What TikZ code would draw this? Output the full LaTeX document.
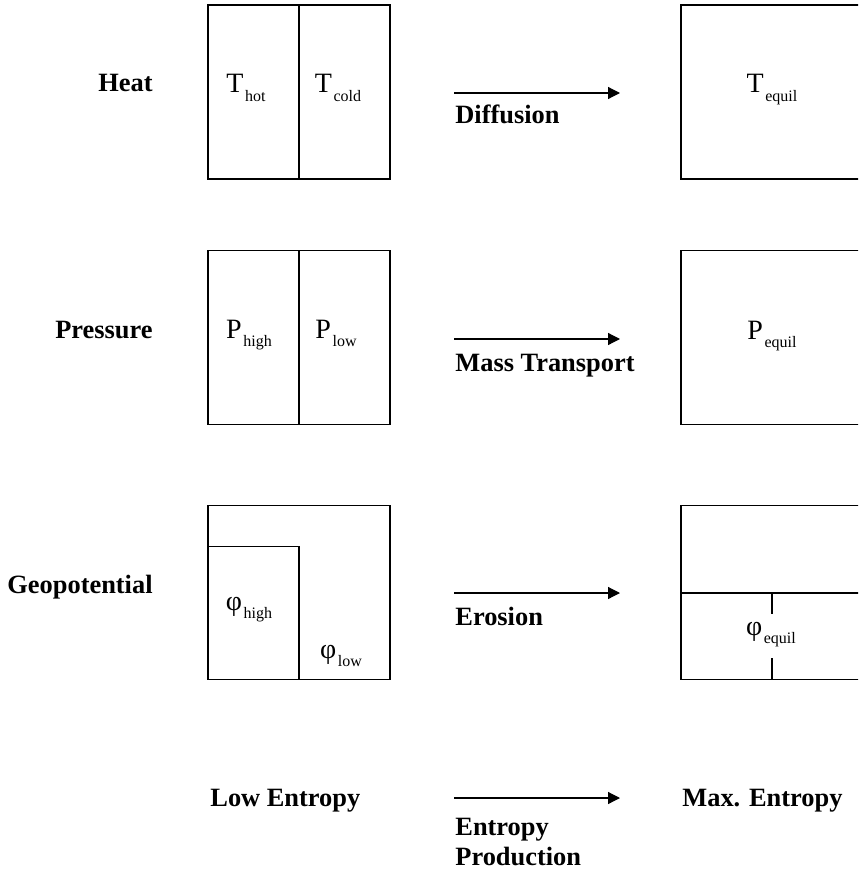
\documentclass[tikz,border=0pt]{standalone}
\usepackage{fontspec}
\setmainfont{Liberation Serif}
\usetikzlibrary{positioning,arrows.meta}
\newcommand{\symsub}[2]{{\fontsize{14}{14}\selectfont #1}\kern0.8pt\raisebox{-4.4pt}{\fontsize{8}{8}\selectfont #2}}

\begin{document}
\begin{tikzpicture}[
  x=0.5pt, y=-0.5pt,
  half/.style={draw, line width=0.7pt, minimum width=45.5pt, minimum height=87pt, inner sep=0pt},
  full/.style={draw, line width=0.7pt, minimum width=91pt, minimum height=87pt, inner sep=0pt},
  row/.style={font=\fontsize{13.2}{15}\selectfont\bfseries, anchor=base east, inner sep=0pt},
  proc/.style={font=\fontsize{13.2}{15}\selectfont\bfseries, anchor=base west, inner sep=0pt, align=left},
  sym/.style={anchor=base, inner sep=0pt},
  arr/.style={-{Triangle[length=6pt,width=6pt]}, line width=0.6pt}
]
\clip (0,0) rectangle (858,872);

% heat
\node[row]  (heat) at (153,92) {Heat};
\node[half] (hot)  at (253.5,92) {};
\node[half] (cold) at (344.5,92) {};
\node[full] (teq)  at (772,92) {};
\node[sym] (thot)  at (246,93) {\symsub{T}{hot}};
\node[sym] (tcold) at (338,93) {\symsub{T}{cold}};
\node[sym] (tequil) at (772,93) {\symsub{T}{equil}};
\coordinate (d0) at (454,93);
\coordinate (d1) at (620,93);
\draw[arr] (d0) -- (d1);
\node[proc] (diff) at (455,124) {Diffusion};

% pressure
\node[row]  (press) at (153,338) {Pressure};
\node[half] (phi)   at (253.5,337.5) {};
\node[half] (plo)   at (344.5,337.5) {};
\node[full] (peq)   at (772,337.5) {};
\node[sym] (phigh)  at (249,338) {\symsub{P}{high}};
\node[sym] (plow)   at (336,338) {\symsub{P}{low}};
\node[sym] (pequil) at (772,339) {\symsub{P}{equil}};
\coordinate (m0) at (454,339);
\coordinate (m1) at (620,339);
\draw[arr] (m0) -- (m1);
\node[proc] (mass) at (455,371) {Mass Transport};

% geopotential
\node[row]  (geo)  at (153,593) {Geopotential};
\node[full] (gbox) at (299,592.5) {};
\node[draw, line width=0.7pt, minimum width=45.5pt, minimum height=66.5pt, inner sep=0pt,
      anchor=south west] (ghill) at (gbox.south west) {};
\node[full] (geq)  at (772,592.5) {};
\coordinate (lvl) at (681,593);
\coordinate (lvr) at (863,593);
\draw[line width=0.7pt] (lvl) -- (lvr);
\node[sym] (fhigh)  at (249,610) {\symsub{φ}{high}};
\node[sym] (flow)   at (341,658) {\symsub{φ}{low}};
\node[sym] (fequil) at (771,635) {\symsub{φ}{equil}};
\coordinate (k0) at (772,614);
\coordinate (k1) at (772,658);
\draw[line width=0.7pt] (lvl -| k0) -- (k0);
\draw[line width=0.7pt] (k1) -- (geq.south -| k1);
\coordinate (e0) at (454,593);
\coordinate (e1) at (620,593);
\draw[arr] (e0) -- (e1);
\node[proc] (eros) at (455,625) {Erosion};

% entropy
\node[proc] (low) at (210,806) {Low Entropy};
\node[proc] (max) at (682,806) {Max. Entropy};
\coordinate (p0) at (454,798);
\coordinate (p1) at (620,798);
\draw[arr] (p0) -- (p1);
\node[proc] (prod) at (455,865) {Entropy\\Production};
\end{tikzpicture}
\end{document}
